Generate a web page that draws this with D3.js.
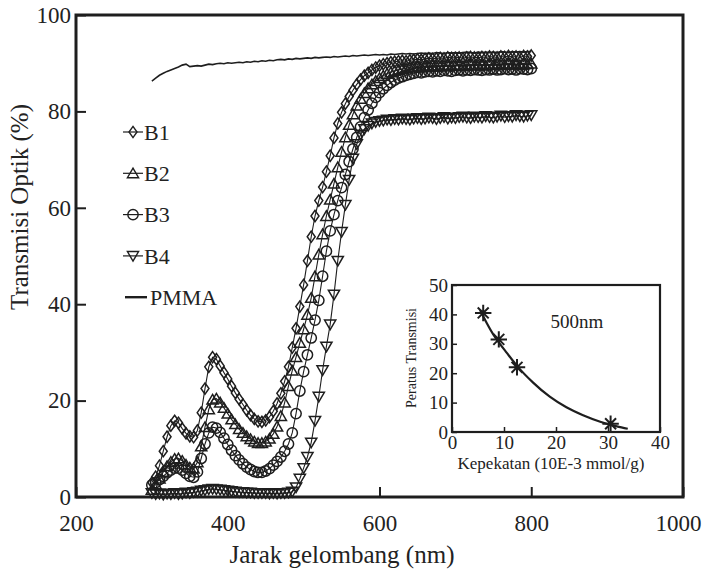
<!DOCTYPE html>
<html>
<head>
<meta charset="utf-8">
<script src="https://cdn.jsdelivr.net/npm/d3@7"></script>
<style>
body { margin: 0; background: #fff; }
text { font-family: "Liberation Serif", "DejaVu Serif", serif; fill: #222; }
</style>
</head>
<body>
<script>
// wavelength grid (nm) the spectra were sampled on
var wavelengths = d3.range(300, 801, 5);

var b1 = [
	3.0, 4.2, 6.5, 9.5, 12.5, 14.8, 15.8, 15.4, 14.2, 13.2,
	12.6, 12.4, 13.8, 17.5, 22.5, 27.0, 29.0, 28.6, 27.2, 25.8,
	24.5, 23.0, 21.6, 20.3, 19.2, 18.0, 17.0, 16.2, 15.7, 15.6,
	15.9, 16.6, 17.8, 19.4, 21.5, 24.0, 27.0, 31.0, 35.0, 39.5,
	44.0, 49.0, 54.0, 58.3, 61.5, 64.3, 67.5, 70.8, 74.5, 77.5,
	79.8, 81.6, 83.1, 84.4, 85.6, 86.6, 87.4, 88.0, 88.6, 89.1,
	89.5, 89.8, 90.0, 90.2, 90.3, 90.4, 90.5, 90.4, 90.6, 90.7,
	90.8, 90.7, 90.9, 91.0, 90.9, 91.0, 91.1, 91.0, 91.2, 91.1,
	91.1, 91.2, 91.0, 91.2, 91.3, 91.2, 91.1, 91.3, 91.2, 91.4,
	91.3, 91.2, 91.4, 91.3, 91.5, 91.3, 91.4, 91.2, 91.5, 91.4,
	91.6];

var b2 = [
	1.5, 2.6, 3.8, 5.2, 6.4, 7.3, 7.9, 8.0, 7.5, 6.7,
	6.1, 5.9, 7.2, 10.5, 14.5, 18.2, 20.2, 20.4, 19.6, 18.5,
	17.3, 16.1, 15.1, 14.1, 13.3, 12.6, 12.0, 11.5, 11.2, 11.2,
	11.5, 12.1, 13.1, 14.6, 16.8, 19.6, 23.0, 26.2, 29.0, 32.0,
	34.8, 37.8, 41.3, 45.8, 50.3, 54.5, 58.3, 61.7, 65.0, 68.4,
	71.6, 74.6, 77.2, 79.4, 81.2, 82.6, 83.8, 84.8, 85.6, 86.3,
	86.9, 87.4, 87.8, 88.1, 88.4, 88.6, 88.8, 88.9, 89.1, 89.2,
	89.3, 89.2, 89.4, 89.3, 89.5, 89.4, 89.3, 89.5, 89.6, 89.4,
	89.5, 89.6, 89.4, 89.6, 89.7, 89.5, 89.6, 89.7, 89.5, 89.7,
	89.6, 89.8, 89.6, 89.7, 89.9, 89.7, 89.8, 89.6, 89.9, 89.8,
	89.9];

var b3 = [
	2.5, 3.0, 3.6, 4.3, 5.0, 5.6, 6.0, 6.0, 5.6, 4.9,
	4.3, 4.1, 5.2, 8.0, 11.0, 13.3, 14.5, 14.3, 13.4, 12.2,
	10.9, 9.7, 8.6, 7.7, 6.9, 6.2, 5.7, 5.3, 5.1, 5.1,
	5.4, 5.9, 6.6, 7.4, 8.3, 9.5, 11.0, 13.3, 17.3, 22.0,
	26.0, 29.5, 33.0, 36.7, 40.8, 45.8, 51.0, 55.2, 58.6, 61.5,
	64.2, 66.9, 69.6, 72.2, 74.6, 76.8, 78.7, 80.3, 81.7, 82.9,
	83.9, 84.7, 85.4, 86.0, 86.5, 86.9, 87.2, 87.5, 87.7, 87.9,
	88.1, 88.0, 88.2, 88.3, 88.2, 88.4, 88.3, 88.5, 88.4, 88.3,
	88.5, 88.6, 88.4, 88.6, 88.5, 88.7, 88.6, 88.5, 88.7, 88.6,
	88.8, 88.6, 88.7, 88.9, 88.7, 88.8, 88.6, 88.9, 88.8, 88.7,
	88.9];

var b4 = [
	0.8, 0.6, 0.7, 0.5, 0.7, 0.6, 0.8, 0.6, 0.7, 0.9,
	0.8, 1.0, 1.1, 1.3, 1.4, 1.6, 1.7, 1.6, 1.5, 1.4,
	1.3, 1.2, 1.1, 1.0, 1.0, 0.9, 0.9, 0.8, 0.8, 0.8,
	0.8, 0.7, 0.8, 0.7, 0.8, 0.8, 0.9, 1.1, 2.0, 3.8,
	6.0, 8.3, 11.3, 15.8, 20.8, 26.3, 31.2, 35.8, 42.0, 49.0,
	55.0, 60.6, 65.8, 70.2, 73.2, 75.2, 76.3, 77.0, 77.5, 77.8,
	78.0, 78.1, 78.3, 78.2, 78.4, 78.3, 78.5, 78.4, 78.3, 78.5,
	78.6, 78.4, 78.5, 78.7, 78.6, 78.4, 78.6, 78.8, 78.5, 78.7,
	78.6, 78.8, 78.9, 78.7, 78.6, 78.9, 78.8, 78.7, 79.0, 78.8,
	78.7, 78.9, 79.1, 78.8, 79.0, 78.9, 79.2, 79.0, 78.9, 79.1,
	79.2];

var pmma = [
	86.3, 86.9, 87.5, 87.9, 88.3, 88.6, 88.9, 89.2, 89.6, 89.8,
	89.3, 89.4, 89.5, 89.4, 89.6, 89.8, 89.7, 89.9, 90.0, 89.9,
	90.1, 90.0, 90.1, 90.2, 90.1, 90.3, 90.2, 90.4, 90.3, 90.5,
	90.4, 90.6, 90.5, 90.7, 90.8, 90.7, 90.9, 90.8, 91.0, 90.9,
	91.0, 91.1, 91.0, 91.2, 91.1, 91.2, 91.3, 91.2, 91.4, 91.3,
	91.4, 91.5, 91.4, 91.6, 91.5, 91.6, 91.7, 91.6, 91.7, 91.8,
	91.7, 91.8, 91.7, 91.9, 91.8, 91.9, 92.0, 91.9, 92.0, 91.9,
	92.0, 92.1, 92.0, 92.1, 92.0, 92.2, 92.1, 92.0, 92.2, 92.1,
	92.2, 92.1, 92.2, 92.3, 92.2, 92.1, 92.3, 92.2, 92.3, 92.2,
	92.3, 92.2, 92.4, 92.3, 92.2, 92.4, 92.3, 92.4, 92.3, 92.4,
	92.4];

var seriesNames = ["B1", "B2", "B3", "B4", "PMMA"];
var xTicks = [200, 400, 600, 800, 1000];
var yTicks = [0, 20, 40, 60, 80, 100];

// inset: transmission at 500 nm against concentration
var insetConc = [6, 9, 12.5, 30.5];
var insetTrans = [40.5, 31.5, 22, 2.8];
var fitConc = [5.4, 6.7, 7.9, 9, 10.5, 12.5, 15.6, 18.8, 22, 25.2, 28.5, 31.7, 33.8];
var fitTrans = [41.5, 37, 33.3, 30.5, 27, 22.5, 16.8, 12, 8.4, 5.7, 3.5, 1.9, 1.1];
var insetXTicks = [0, 10, 20, 30, 40];
var insetYTicks = [0, 10, 20, 30, 40, 50];

const WIDTH = 703;
const HEIGHT = 571;
const INK = "#1e1e1e";

var markers = {
	B1: "M0,-5.6L4,0L0,5.6L-4,0Z",
	B2: "M0,-5.2L5.6,4.4L-5.6,4.4Z",
	B3: d3.symbol(d3.symbolCircle, 84)(),
	B4: "M0,5.2L5.6,-4.4L-5.6,-4.4Z"
};

var svg = d3.select("body").append("svg")
	.attr("width", WIDTH)
	.attr("height", HEIGHT);

var xScale = d3.scaleLinear().domain([200, 1000]).range([76, 683]);
var yScale = d3.scaleLinear().domain([0, 100]).range([497, 15]);

// axes, ticks point into the plot
svg.append("g")
	.attr("transform", "translate(76,0)")
	.call(d3.axisLeft(yScale).tickValues(yTicks).tickSizeInner(-10).tickSizeOuter(0).tickPadding(5))
	.call(function(g){ g.select(".domain").remove(); })
	.call(function(g){ g.selectAll("line").attr("stroke", INK).attr("stroke-width", 2); })
	.call(function(g){ g.selectAll("text").attr("font-size", 23); });

svg.append("g")
	.attr("transform", "translate(0,497)")
	.call(d3.axisBottom(xScale).tickValues(xTicks).tickFormat(d3.format("d"))
		.tickSizeInner(-10).tickSizeOuter(0).tickPadding(18))
	.call(function(g){ g.select(".domain").remove(); })
	.call(function(g){ g.selectAll("line").attr("stroke", INK).attr("stroke-width", 2); })
	.call(function(g){ g.selectAll("text").attr("font-size", 23); })
	.call(function(g){ g.selectAll("text").filter(function(d){ return d == 1000; }).attr("x", -5); });

var line = function(values){
	return d3.line()
		.x(function(d, i){ return xScale(wavelengths[i]); })
		.y(function(d){ return yScale(d); })(values);
};

svg.append("path")
	.attr("d", line(pmma))
	.attr("fill", "none")
	.attr("stroke", INK)
	.attr("stroke-width", 1.6);

var spectra = [["B4", b4], ["B3", b3], ["B2", b2], ["B1", b1]];
spectra.forEach(function(s){
	var g = svg.append("g");
	g.append("path")
		.attr("d", line(s[1]))
		.attr("fill", "none")
		.attr("stroke", INK)
		.attr("stroke-width", 1.1);
	g.selectAll("path.m").data(s[1])
		.enter().append("path")
		.classed("m", true)
		.attr("d", markers[s[0]])
		.attr("transform", function(d, i){ return "translate(" + xScale(wavelengths[i]) + "," + yScale(d) + ")"; })
		.attr("fill", "none")
		.attr("stroke", INK)
		.attr("stroke-width", 1.5);
});

svg.append("rect")
	.attr("x", 76).attr("y", 15)
	.attr("width", 683 - 76).attr("height", 497 - 15)
	.attr("fill", "none")
	.attr("stroke", INK)
	.attr("stroke-width", 3);

// legend
var legend = svg.append("g").attr("transform", "translate(133,132)");
seriesNames.forEach(function(name, i){
	var row = legend.append("g").attr("transform", "translate(0," + (i * 41.3) + ")");
	if (name == "PMMA") {
		row.append("line").attr("x1", -8).attr("x2", 14).attr("stroke", INK).attr("stroke-width", 2.4);
		row.append("text").attr("x", 17).attr("dy", "0.35em").attr("font-size", 22).text(name);
	} else {
		row.append("line").attr("x1", -10).attr("x2", 10).attr("stroke", INK).attr("stroke-width", 1.2);
		row.append("path").attr("d", markers[name]).attr("fill", "none").attr("stroke", INK).attr("stroke-width", 1.4);
		row.append("text").attr("x", 11).attr("dy", "0.35em").attr("font-size", 22).text(name);
	}
});

svg.append("text")
	.attr("transform", "translate(28,207) rotate(-90)")
	.attr("text-anchor", "middle")
	.attr("font-size", 25)
	.text("Transmisi Optik (%)");

svg.append("text")
	.attr("x", 342).attr("y", 563)
	.attr("text-anchor", "middle")
	.attr("font-size", 25)
	.text("Jarak gelombang (nm)");

// inset chart
var ix = d3.scaleLinear().domain([0, 40]).range([452, 660]);
var iy = d3.scaleLinear().domain([0, 50]).range([432, 285]);

svg.append("rect")
	.attr("x", 452).attr("y", 285)
	.attr("width", 660 - 452).attr("height", 432 - 285)
	.attr("fill", "#fff");

svg.append("g")
	.attr("transform", "translate(452,0)")
	.call(d3.axisLeft(iy).tickValues(insetYTicks).tickSizeInner(-5).tickSizeOuter(0).tickPadding(4))
	.call(function(g){ g.select(".domain").remove(); })
	.call(function(g){ g.selectAll("line").attr("stroke", INK).attr("stroke-width", 1.5); })
	.call(function(g){ g.selectAll("text").attr("font-size", 19); });

svg.append("g")
	.attr("transform", "translate(0,432)")
	.call(d3.axisBottom(ix).tickValues(insetXTicks).tickSizeInner(-5).tickSizeOuter(0).tickPadding(4))
	.call(function(g){ g.select(".domain").remove(); })
	.call(function(g){ g.selectAll("line").attr("stroke", INK).attr("stroke-width", 1.5); })
	.call(function(g){ g.selectAll("text").attr("font-size", 19); });

svg.append("path")
	.attr("d", d3.line()
		.curve(d3.curveMonotoneX)
		.x(function(d, i){ return ix(fitConc[i]); })
		.y(function(d){ return iy(d); })(fitTrans))
	.attr("fill", "none")
	.attr("stroke", INK)
	.attr("stroke-width", 2.2);

var star = d3.symbol(d3.symbolTimes, 80)() + d3.symbol(d3.symbolPlus, 90)();
svg.append("g").selectAll("path").data(insetTrans)
	.enter().append("path")
	.attr("d", star)
	.attr("transform", function(d, i){ return "translate(" + ix(insetConc[i]) + "," + iy(d) + ")"; })
	.attr("fill", "none")
	.attr("stroke", INK)
	.attr("stroke-width", 2);

svg.append("rect")
	.attr("x", 452).attr("y", 285)
	.attr("width", 660 - 452).attr("height", 432 - 285)
	.attr("fill", "none")
	.attr("stroke", INK)
	.attr("stroke-width", 2.2);

svg.append("text")
	.attr("x", 577).attr("y", 328)
	.attr("text-anchor", "middle")
	.attr("font-size", 19)
	.text("500nm");

svg.append("text")
	.attr("transform", "translate(416,358) rotate(-90)")
	.attr("text-anchor", "middle")
	.attr("font-size", 14)
	.text("Peratus Transmisi");

svg.append("text")
	.attr("x", 551).attr("y", 469)
	.attr("text-anchor", "middle")
	.attr("font-size", 17)
	.text("Kepekatan (10E-3 mmol/g)");
</script>
</body>
</html>
